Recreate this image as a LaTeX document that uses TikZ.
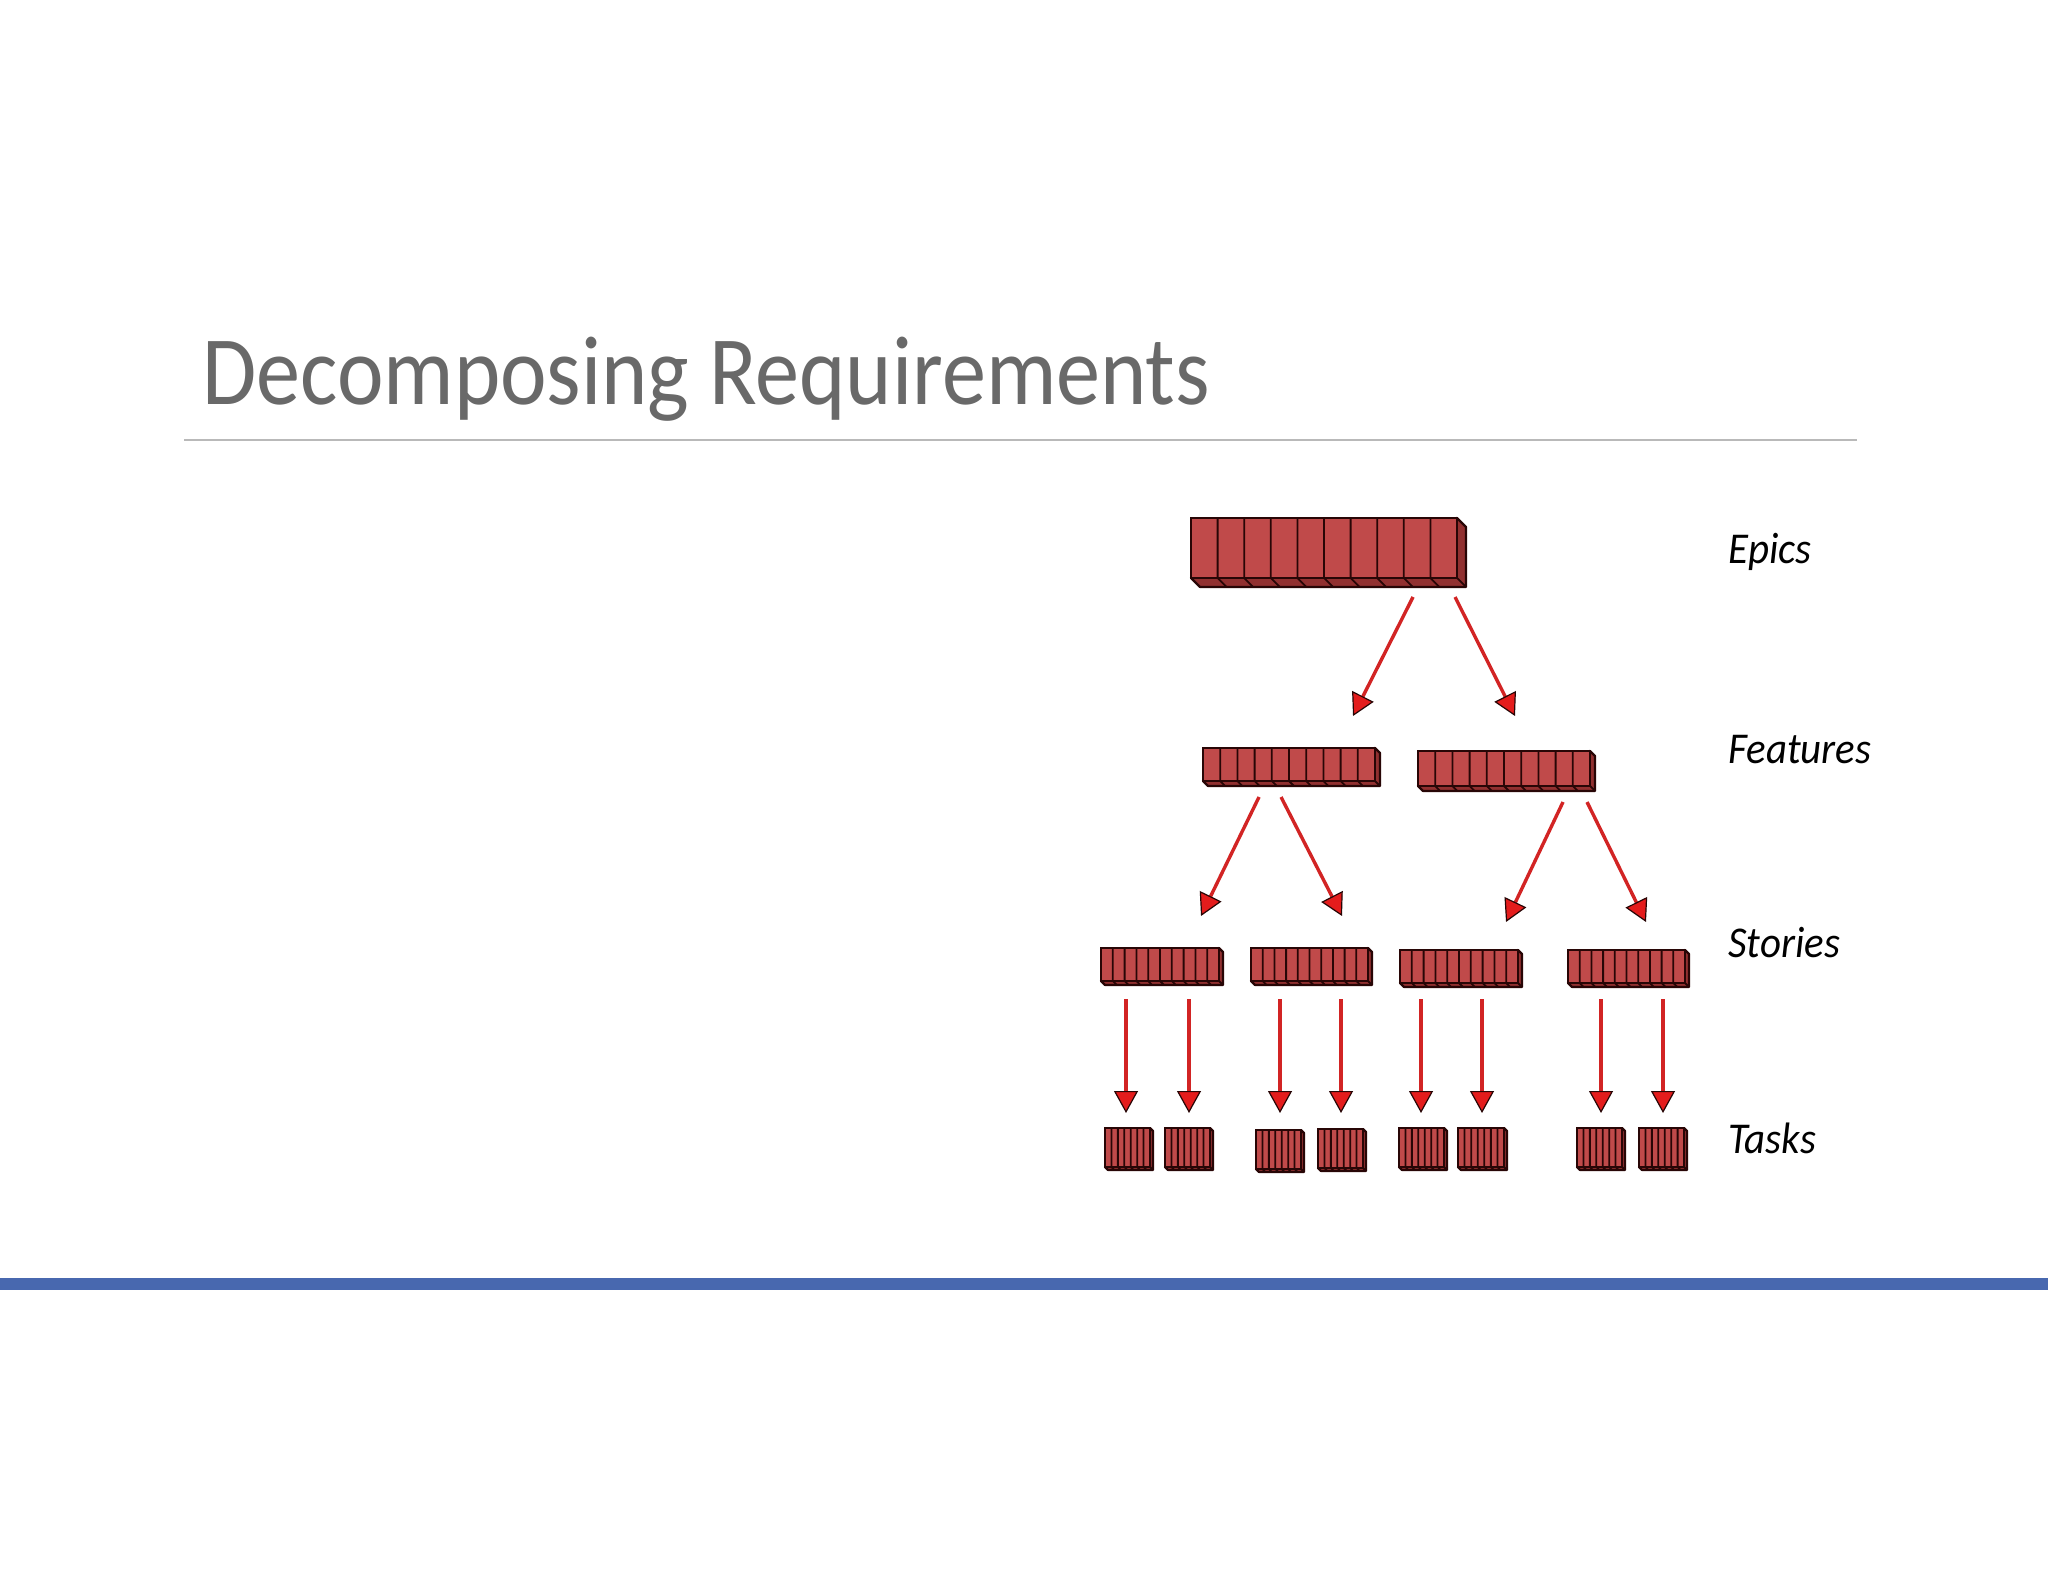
\documentclass[tikz,border=0pt]{standalone}
\usepackage{fontspec}
\setmainfont{Carlito}
\newfontfamily\titlefont[FakeStretch=0.9]{Carlito}
\newfontfamily\labelfont[FakeStretch=0.93]{Carlito}
\usetikzlibrary{arrows.meta}
\definecolor{brickface}{RGB}{192,74,74}
\definecolor{brickside}{RGB}{145,48,48}
\definecolor{brickline}{RGB}{40,6,6}
\definecolor{arrred}{RGB}{210,36,36}
\definecolor{headred}{RGB}{228,28,28}
\definecolor{titlegray}{RGB}{105,105,105}
\definecolor{rulegray}{RGB}{185,185,185}
\definecolor{barblue}{RGB}{72,104,175}
\tikzset{
  brickfront/.style={draw=brickline, fill=brickface, line width=1.1pt, inner sep=0pt, outer sep=0pt, rectangle},
  bricksidestyle/.style={draw=brickline, fill=brickside, line width=1.1pt, line join=round},
  stripe/.style={draw=brickline, line width=0.9pt},
  arr/.style={draw=arrred, line width=1.7pt,
    -{Triangle[length=11pt,width=12pt,fill=headred,color=brickline,line width=0.6pt]}},
  levellabel/.style={anchor=base west, font=\labelfont\fontsize{22pt}{26pt}\selectfont\itshape, text=black, inner sep=0pt},
}
\newcommand\drawbrick[7]{%
  \filldraw[bricksidestyle] (#2,#5) -- (#2+#7,#5+#7) -- (#4+#7,#5+#7) -- (#4+#7,#3+#7) -- (#4,#3) -- cycle;
  \draw[stripe] (#4,#5) -- (#4+#7,#5+#7);
  \node[brickfront, anchor=north west, minimum width={(#4-#2)*0.5pt}, minimum height={(#5-#3)*0.5pt}] (#1) at (#2,#3) {};
  \pgfmathtruncatemacro\nm{#6-1}%
  \foreach \i in {1,...,\nm} {%
    \pgfmathsetmacro\xx{#2+(#4-#2)*\i/#6}%
    \draw[stripe] (\xx,#3) -- (\xx,#5) -- ++(#7,#7);
  }%
}
\begin{document}
\begin{tikzpicture}[x=0.5pt,y=-0.5pt]
\useasboundingbox (0,0) rectangle (2048,1582);
\fill[white] (0,0) rectangle (2048,1582);

% title and rules
\node[anchor=base west, inner sep=0pt, text=titlegray, font=\titlefont\fontsize{49pt}{56pt}\selectfont] (title) at (202,405) {Decomposing Requirements};
\draw[rulegray, line width=0.75pt] (184,440) -- (1857,440);
\fill[barblue] (0,1278) rectangle (2048,1290);

% epics
\drawbrick{epic}{1191}{518}{1457}{578}{10}{9}
% features
\drawbrick{feat1}{1203}{748}{1375}{781}{10}{5}
\drawbrick{feat2}{1418}{751}{1590}{786}{10}{5}
% stories
\drawbrick{story1}{1101}{948}{1219}{981}{10}{4}
\drawbrick{story2}{1251}{948}{1368}{981}{10}{4}
\drawbrick{story3}{1400}{950}{1518}{983}{10}{4}
\drawbrick{story4}{1568}{950}{1685}{983}{10}{4}
% tasks
\drawbrick{task1}{1105}{1128}{1150}{1167}{7}{3}
\drawbrick{task2}{1165}{1128}{1210}{1167}{7}{3}
\drawbrick{task3}{1256}{1130}{1301}{1169}{7}{3}
\drawbrick{task4}{1318}{1129}{1363}{1168}{7}{3}
\drawbrick{task5}{1399}{1128}{1444}{1167}{7}{3}
\drawbrick{task6}{1458}{1128}{1504}{1167}{7}{3}
\drawbrick{task7}{1577}{1128}{1622}{1167}{7}{3}
\drawbrick{task8}{1639}{1128}{1684}{1167}{7}{3}

% arrow end points
\coordinate (ef1a) at (1413,597); \coordinate (ef1b) at (1353,716);
\coordinate (ef2a) at (1455,597); \coordinate (ef2b) at (1515,716);
\coordinate (fs1a) at (1259,797); \coordinate (fs1b) at (1201,916);
\coordinate (fs2a) at (1281,797); \coordinate (fs2b) at (1342,916);
\coordinate (fs3a) at (1563,802); \coordinate (fs3b) at (1506,922);
\coordinate (fs4a) at (1587,802); \coordinate (fs4b) at (1646,922);

\draw[arr] (ef1a) -- (ef1b);
\draw[arr] (ef2a) -- (ef2b);
\draw[arr] (fs1a) -- (fs1b);
\draw[arr] (fs2a) -- (fs2b);
\draw[arr] (fs3a) -- (fs3b);
\draw[arr] (fs4a) -- (fs4b);

\foreach \n/\x in {1/1126,2/1189,3/1280,4/1341,5/1421,6/1482,7/1601,8/1663} {
  \coordinate (st\n a) at (\x,999);
  \coordinate (st\n b) at (\x,1113);
  \draw[arr] (st\n a) -- (st\n b);
}

% labels
\node[levellabel] (lepics) at (1728,564) {Epics};
\node[levellabel] (lfeatures) at (1728,763) {Features};
\node[levellabel] (lstories) at (1728,957) {Stories};
\node[levellabel] (ltasks) at (1728,1153) {Tasks};
\end{tikzpicture}
\end{document}
